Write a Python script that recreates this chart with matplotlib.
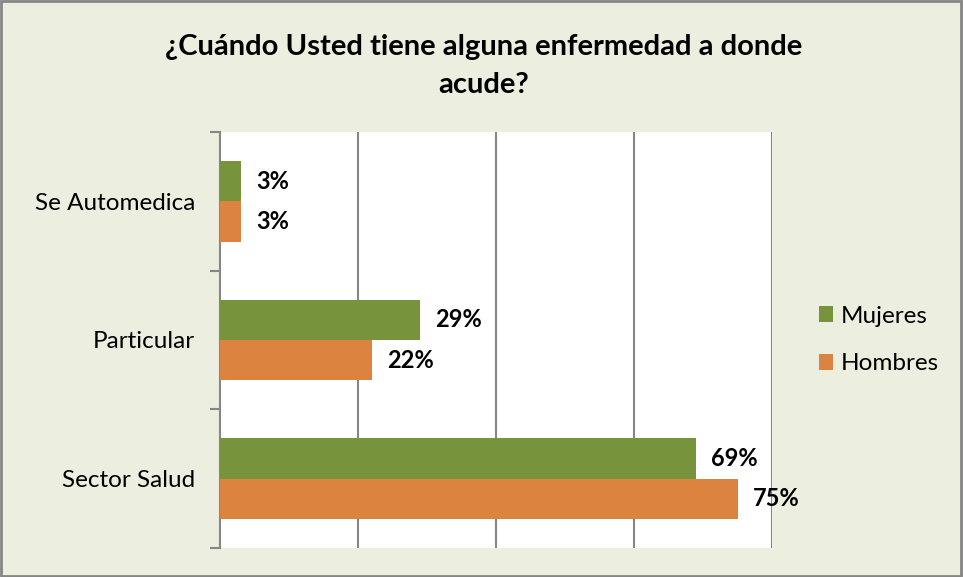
import matplotlib.pyplot as plt
import numpy as np
from matplotlib.patches import Rectangle

categorias = ["Sector Salud", "Particular", "Se Automedica"]
mujeres = [69, 29, 3]
hombres = [75, 22, 3]
series = ["Mujeres", "Hombres"]

VERDE = "#77933C"
NARANJA = "#DD8340"
FONDO = "#ECEFDF"
GRIS = "#868686"

plt.rcParams['font.family'] = ['Lato', 'DejaVu Sans']


def main():
    fig = plt.figure(figsize=(9.63, 5.77), dpi=100, facecolor=FONDO)
    ax = fig.add_axes([0.2285, 0.0503, 0.5732, 0.7209])
    ax.set_facecolor("white")

    y = np.arange(len(categorias))
    h = 0.29
    b1 = ax.barh(y + h / 2, mujeres, height=h, color=VERDE, label=series[0], zorder=3)
    b2 = ax.barh(y - h / 2, hombres, height=h, color=NARANJA, label=series[1], zorder=3)

    for bars in (b1, b2):
        for r in bars:
            w = r.get_width()
            ax.annotate("%d%%" % w, (w, r.get_y() + r.get_height() / 2),
                        xytext=(11, 0), textcoords="offset points",
                        va="center", ha="left", fontsize=17, fontweight="bold")

    ax.set_xlim(0, 80)
    ax.set_ylim(-0.5, 2.5)
    ax.set_xticks([20, 40, 60, 80])
    ax.xaxis.grid(True, color=GRIS, linewidth=1.5, zorder=0)
    ax.tick_params(axis="x", length=0, labelbottom=False)

    ax.set_yticks(y)
    ax.set_yticklabels(categorias, fontsize=17.5)
    ax.set_yticks([-0.5, 0.5, 1.5, 2.5], minor=True)
    ax.tick_params(axis="y", which="major", length=0, pad=18)
    ax.tick_params(axis="y", which="minor", length=7, width=1.5, color=GRIS)

    for s in ["top", "right", "bottom"]:
        ax.spines[s].set_visible(False)
    ax.spines["left"].set_color(GRIS)
    ax.spines["left"].set_linewidth(1.5)

    fig.text(0.502, 0.9185, "¿Cuándo Usted tiene alguna enfermedad a donde",
             ha="center", va="center", fontsize=21, fontweight="bold")
    fig.text(0.502, 0.853, "acude?",
             ha="center", va="center", fontsize=21, fontweight="bold")

    ax.legend(loc="center left", bbox_to_anchor=(1.045, 0.5), frameon=False,
              fontsize=17.5, handlelength=0.6, handleheight=0.6, labelspacing=1.1,
              handletextpad=0.3)

    fig.patches.append(Rectangle((0.001, 0.001), 0.997, 0.997, transform=fig.transFigure,
                                 fill=False, edgecolor=GRIS, linewidth=2))

    fig.savefig("out.png", dpi=100, facecolor=FONDO)


if __name__ == '__main__':
    main()
